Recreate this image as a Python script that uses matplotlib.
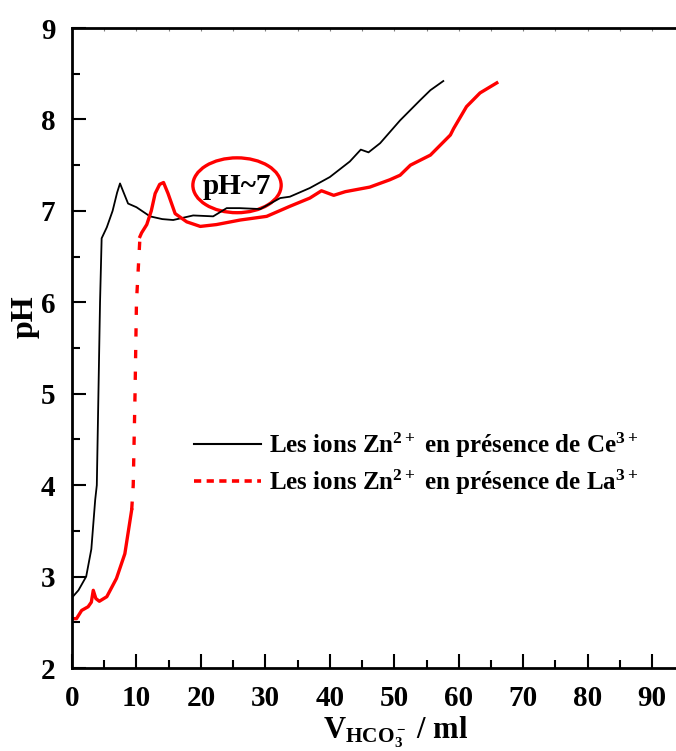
import numpy as np
import matplotlib.pyplot as plt
from matplotlib.patches import Ellipse
from matplotlib.lines import Line2D

plt.rcParams['font.family'] = ['Liberation Serif', 'DejaVu Serif']
plt.rcParams['font.weight'] = 'bold'
plt.rcParams['mathtext.fontset'] = 'custom'
plt.rcParams['mathtext.rm'] = 'Liberation Serif:bold'
plt.rcParams['mathtext.bf'] = 'Liberation Serif:bold'
plt.rcParams['mathtext.it'] = 'Liberation Serif:bold'

# Zn2+ with Ce3+ (black)
ce_v = [0, 1.0, 2.2, 3.0, 3.6, 3.85, 4.1, 4.35, 4.6, 5.4, 6.3, 7.0, 7.45, 7.9, 8.7,
        10.0, 12.1, 14.0, 15.7, 18.8, 21.9, 24.0, 26.0, 29.2, 32.3, 33.8, 36.9,
        40.0, 43.1, 44.8, 46.0, 47.8, 50.9, 54.0, 55.6, 57.6]
ce_ph = [2.77, 2.85, 3.0, 3.3, 3.84, 4.0, 5.0, 6.0, 6.7, 6.82, 7.0, 7.2, 7.3, 7.22, 7.08,
         7.04, 6.94, 6.91, 6.90, 6.95, 6.94, 7.03, 7.03, 7.02, 7.14, 7.155, 7.25,
         7.37, 7.54, 7.67, 7.64, 7.74, 7.99, 8.21, 8.32, 8.42]

# Zn2+ with La3+ (red): low part, steep jump, upper part
la_v_low = [0, 0.7, 1.5, 2.5, 3.0, 3.3, 3.7, 4.24, 5.4, 6.9, 8.2, 9.26]
la_ph_low = [2.54, 2.54, 2.63, 2.67, 2.72, 2.85, 2.76, 2.73, 2.78, 2.98, 3.25, 3.73]
la_v_jump = [9.26, 9.5, 9.78, 10.0, 10.55]
la_ph_jump = [3.73, 4.0, 5.0, 6.0, 6.72]
la_v_up = [10.55, 10.8, 11.6, 12.3, 12.9, 13.6, 14.2, 14.9, 16.0, 17.8, 19.9, 22.4, 26.1,
           30.2, 33.8, 36.9, 38.7, 40.6, 42.4, 46.2, 49.3, 50.9, 52.5, 55.6, 58.7,
           59.2, 61.2, 63.3, 65.9]
la_ph_up = [6.72, 6.76, 6.85, 7.0, 7.19, 7.29, 7.31, 7.19, 6.97, 6.88, 6.83, 6.85, 6.90,
            6.94, 7.05, 7.14, 7.22, 7.17, 7.21, 7.26, 7.34, 7.39, 7.50, 7.61, 7.83,
            7.90, 8.14, 8.29, 8.40]

label_ce = r'Les ions Zn$^{2+}$ en présence de Ce$^{3+}$'
label_la = r'Les ions Zn$^{2+}$ en présence de La$^{3+}$'

fig = plt.figure(figsize=(6.76, 7.51), dpi=100)
ax = fig.add_axes([0.1065, 0.1105, 0.8935, 0.8522])

ax.plot(ce_v, ce_ph, color='black', lw=1.3)
ax.plot(la_v_low, la_ph_low, color='red', lw=2.4)
ax.plot(la_v_jump, la_ph_jump, color='red', lw=2.4, dashes=(2.5, 4))
ax.plot(la_v_up, la_ph_up, color='red', lw=2.4)

ax.add_patch(Ellipse((25.6, 7.28), 13.7, 0.60, fill=False, edgecolor='red', lw=2.4))
ax.text(25.6, 7.27, 'pH~7', ha='center', va='center', fontsize=21, fontweight='bold')

ax.set_xlim(0, 93.7)
ax.set_ylim(2, 9)
ax.set_xticks(np.arange(0, 91, 10))
ax.set_xticks(np.arange(5, 91, 10), minor=True)
ax.set_yticks(np.arange(2, 10, 1))
ax.set_yticks(np.arange(2.5, 9, 1), minor=True)
ax.tick_params(which='major', direction='in', length=10, width=1.5, labelsize=21, pad=12)
ax.tick_params(which='minor', direction='in', length=6, width=1.5)
ax.spines['right'].set_visible(False)
for s in ['left', 'bottom', 'top']:
    ax.spines[s].set_linewidth(2)
for lab in ax.get_xticklabels() + ax.get_yticklabels():
    lab.set_fontweight('bold')

top = ax.secondary_xaxis('top')
top.set_xticks(np.arange(0, 91, 5))
top.tick_params(direction='in', length=2, width=0.8, colors='gray', labeltop=False)
top.spines['top'].set_visible(False)

ax.set_xlabel(r'V$_{\mathrm{HCO_3^-}}$ / ml', fontsize=22, fontweight='bold')
ax.xaxis.set_label_coords(0.535, -0.072)
ax.set_ylabel('pH', fontsize=23, fontweight='bold')
ax.yaxis.set_label_coords(-0.053, 0.549)

handles = [Line2D([], [], color='black', lw=1.5),
           Line2D([], [], color='red', lw=2.6, dashes=(2, 1.5))]
ax.legend(handles, [label_ce, label_la], loc='upper left', bbox_to_anchor=(0.164, 0.406),
          frameon=False, handlelength=2.7, handletextpad=0.3,
          labelspacing=0.3, prop={'weight': 'bold', 'size': 18})

fig.savefig('out.png', dpi=100)
